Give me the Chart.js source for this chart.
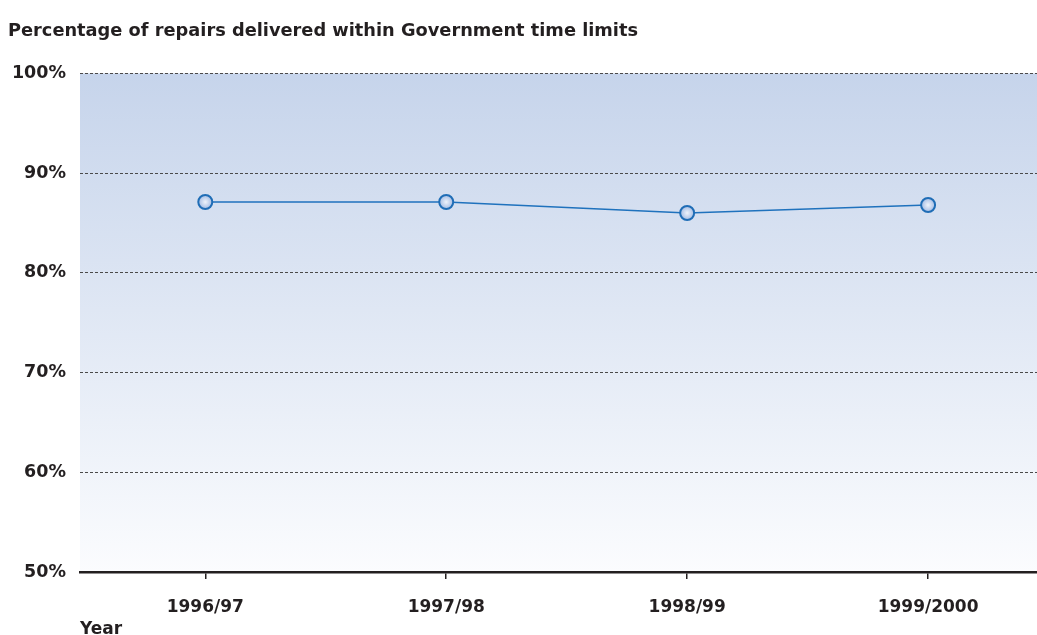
<!DOCTYPE html>
<html>
<head>
<meta charset="utf-8">
<script src="https://cdn.jsdelivr.net/npm/chart.js@4/dist/chart.umd.min.js"></script>
<style>
  html, body { margin: 0; padding: 0; background: #ffffff; }
  #wrap { width: 1037px; height: 635px; }
</style>
</head>
<body>
<div id="wrap"><canvas id="repairs"></canvas></div>
<script>
// === Data ===
var years = ['1996/97', '1997/98', '1998/99', '1999/2000']
var repairsPct = [87.1, 87.1, 86.0, 86.8]
var yTicks = [50, 60, 70, 80, 90, 100]

var fontFamily = "'DejaVu Sans', 'Open Sans', sans-serif"
var textColor = '#231f20'

// blue wash behind the plot, darker at the top
var bgPlugin = {
    id: 'bgWash',
    beforeDraw: function(chart) {
        var a = chart.chartArea
        var c = chart.ctx
        var g = c.createLinearGradient(0, a.top, 0, a.bottom)
        g.addColorStop(0, '#c6d4eb')
        g.addColorStop(1, '#fbfcfe')
        c.save()
        c.fillStyle = g
        c.fillRect(a.left, a.top, a.right - a.left, a.bottom - a.top)
        c.restore()
    }
}

function pointFill(ctx) {
    var chart = ctx.chart
    var flat = '#d0dcf0'
    if (!chart.scales.x || !chart.scales.y || ctx.dataIndex === undefined) return flat
    var x = chart.scales.x.getPixelForValue(ctx.dataIndex)
    var y = chart.scales.y.getPixelForValue(repairsPct[ctx.dataIndex])
    if (!isFinite(x) || !isFinite(y)) return flat
    var g = chart.ctx.createRadialGradient(x, y, 0, x, y, 7)
    g.addColorStop(0, '#eef3fb')
    g.addColorStop(1, '#a3bbe3')
    return g
}

var config = {
    type: 'line',
    data: {
        datasets: [{
            data: repairsPct.map(function(v, i) { return { x: i, y: v } }),
            borderColor: '#1f72bd',
            borderWidth: 1.5,
            tension: 0,
            fill: false,
            pointRadius: 7,
            pointBorderWidth: 2,
            pointBorderColor: '#1f6db6',
            pointBackgroundColor: pointFill
        }]
    },
    options: {
        responsive: true,
        maintainAspectRatio: false,
        animation: false,
        layout: { autoPadding: false, padding: { left: 8, right: 0, top: 0, bottom: 0 } },
        plugins: {
            legend: { display: false },
            tooltip: { enabled: false },
            title: {
                display: true,
                text: 'Percentage of repairs delivered within Government time limits',
                align: 'start',
                color: textColor,
                font: { family: fontFamily, size: 17.8, weight: 'bold' },
                padding: { top: 21, bottom: 31 }
            }
        },
        scales: {
            x: {
                type: 'linear',
                min: -0.52,
                max: 3.452,
                afterBuildTicks: function(scale) {
                    scale.ticks = years.map(function(y, i) { return { value: i } })
                },
                afterFit: function(scale) { scale.height = 63 },
                ticks: {
                    callback: function(v) { return years[v] },
                    color: textColor,
                    font: { family: fontFamily, size: 17, weight: 'bold' },
                    padding: 18,
                    maxRotation: 0
                },
                grid: {
                    drawOnChartArea: false,
                    drawTicks: true,
                    tickLength: 7,
                    color: '#231f20',
                    lineWidth: 1.5
                },
                border: { display: true, color: '#231f20', width: 2.5 },
                title: {
                    display: true,
                    text: 'Year',
                    align: 'start',
                    color: textColor,
                    font: { family: fontFamily, size: 17, weight: 'bold' },
                    padding: { top: 0, bottom: -5 }
                }
            },
            y: {
                min: 50,
                max: 100,
                afterBuildTicks: function(scale) {
                    scale.ticks = yTicks.map(function(v) { return { value: v } })
                },
                afterFit: function(scale) { scale.width = 72 },
                ticks: {
                    callback: function(v) { return v + '%' },
                    color: textColor,
                    font: { family: fontFamily, size: 17.5, weight: 'bold' },
                    padding: 14
                },
                grid: {
                    drawTicks: false,
                    color: function(ctx) {
                        return ctx.tick && ctx.tick.value === 50 ? 'rgba(0,0,0,0)' : '#4a4a4a'
                    },
                    lineWidth: 1
                },
                border: { display: false, dash: [3, 2] }
            }
        }
    },
    plugins: [bgPlugin]
}

var ctx = document.getElementById('repairs').getContext('2d')
new Chart(ctx, config)
</script>
</body>
</html>
